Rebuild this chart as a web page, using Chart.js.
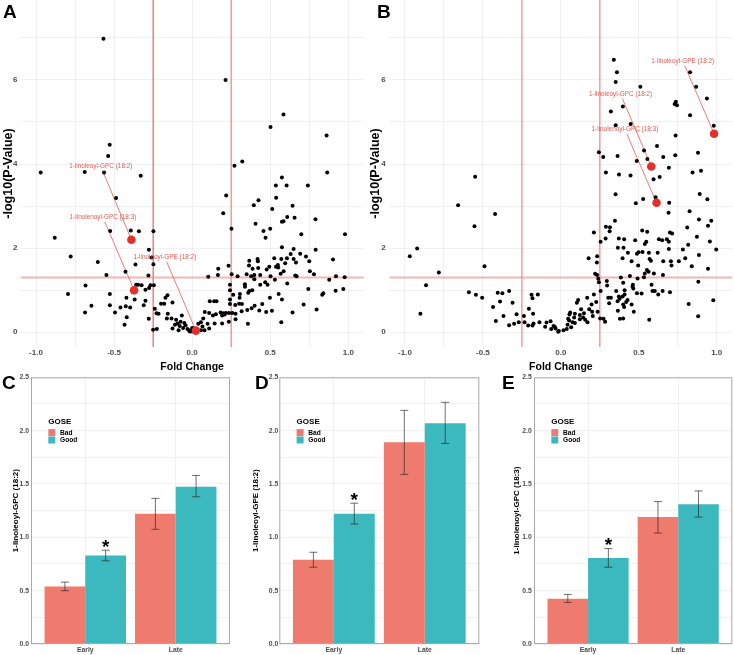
<!DOCTYPE html>
<html>
<head>
<meta charset="utf-8">
<script src="https://cdn.jsdelivr.net/npm/chart.js@4.4.0/dist/chart.umd.min.js"></script>
<style>
body { margin: 0; background: #fff; width: 734px; height: 655px; position: relative; overflow: hidden; }
canvas { position: absolute; }
.tag { position: absolute; font: bold 19px "Liberation Sans", Arial, sans-serif; color: #000; line-height: 1; }
</style>
</head>
<body>
<canvas id="volcA" style="left:0px;top:0px;width:365px;height:375px"></canvas>
<canvas id="volcB" style="left:365px;top:0px;width:369px;height:375px"></canvas>
<canvas id="barC" style="left:0px;top:370px;width:245px;height:285px"></canvas>
<canvas id="barD" style="left:245px;top:370px;width:245px;height:285px"></canvas>
<canvas id="barE" style="left:490px;top:370px;width:244px;height:285px"></canvas>
<div class="tag" style="left:3px;top:1.5px">A</div>
<div class="tag" style="left:377px;top:1.5px">B</div>
<div class="tag" style="left:2px;top:372.5px">C</div>
<div class="tag" style="left:255px;top:372.5px">D</div>
<div class="tag" style="left:502px;top:372.5px">E</div>
<script>
// ---- volcano data: [fold change, -log10 p] ----
const pointsA = [
  [-0.568,6.98],[0.214,6.00],[0.585,5.18],[0.502,4.88],[0.861,4.68],[-0.528,4.46],[-0.538,4.19],[-0.970,3.80],[-0.688,3.81],[-0.564,3.80],
  [-0.329,3.72],[0.865,3.80],[0.321,4.06],[0.271,3.96],[0.575,3.68],[0.536,3.49],[0.605,3.49],[0.741,3.49],[0.218,3.25],[-0.487,3.19],
  [0.425,3.14],[0.538,3.20],[0.395,3.02],[0.513,2.93],[0.643,3.01],[0.199,2.83],[0.609,2.74],[0.656,2.72],[0.575,2.63],[0.585,2.64],
  [0.790,2.69],[0.406,2.58],[0.252,2.46],[0.500,2.46],[0.457,2.41],[0.470,2.25],[0.699,2.33],[0.979,2.33],[-0.880,2.25],[-0.525,2.41],
  [-0.393,2.42],[-0.341,2.40],[-0.248,2.40],
  [-0.277,1.96],[-0.778,1.80],[-0.260,1.78],[-0.604,1.67],[-0.248,1.62],[-0.363,1.61],[-0.549,1.36],[-0.427,1.44],[-0.280,1.35],[-0.683,1.11],
  [-0.795,0.91],[-0.527,0.91],[-0.359,1.13],[-0.346,1.13],[-0.324,1.12],[-0.299,1.01],[-0.276,1.05],[-0.267,1.12],[-0.245,1.12],[-0.421,0.82],
  [-0.368,0.78],[-0.527,0.64],[-0.645,0.63],[-0.686,0.47],[-0.459,0.59],[-0.425,0.62],[-0.397,0.59],[-0.494,0.47],[-0.419,0.36],[-0.433,0.18],
  [-0.310,0.64],[-0.299,0.75],[-0.278,0.32],[-0.250,0.06],[-0.226,0.08],[-0.239,0.56],[-0.228,0.45],[-0.215,0.44],[-0.199,0.68],[-0.179,0.68],
  [-0.171,0.82],[-0.158,0.88],[-0.126,0.71],[-0.156,0.44],[-0.162,0.33],[-0.132,0.33],[-0.103,0.30],[-0.066,0.40],[-0.074,0.25],[-0.094,0.21],
  [-0.042,0.17],[-0.126,0.09],[-0.087,0.05],[-0.058,0.10],[-0.030,0.08],[-0.015,0.02],[-0.002,0.02],[-0.080,0.15],[-0.050,0.22],[-0.110,0.18],
  [-0.020,0.05],[0.000,0.10],
  [0.366,1.70],[0.419,1.74],[0.421,1.69],[0.526,1.76],[0.571,1.74],[0.607,1.76],[0.631,1.86],[0.650,1.74],[0.665,1.66],[0.692,1.87],
  [0.729,1.80],[0.750,1.69],[0.902,1.73],[0.575,2.02],[0.650,1.98],[0.791,1.96],[0.167,1.51],[0.165,1.36],[0.233,1.58],[0.364,1.59],
  [0.387,1.51],[0.423,1.53],[0.477,1.49],[0.494,1.56],[0.537,1.56],[0.549,1.60],[0.551,1.54],[0.596,1.64],[0.567,1.39],[0.586,1.45],
  [0.754,1.45],[0.780,1.38],[0.103,1.32],[0.253,1.38],[0.291,1.33],[0.349,1.38],[0.378,1.33],[0.398,1.36],[0.436,1.36],[0.502,1.33],
  [0.660,1.35],[0.669,1.33],[0.921,1.33],[0.977,1.31],[0.878,1.25],[0.242,1.13],[0.242,1.00],[0.263,0.89],[0.242,0.78],[0.242,0.67],
  [0.338,1.14],[0.338,1.08],[0.366,0.98],[0.385,1.00],[0.359,0.94],[0.306,0.91],[0.304,0.82],[0.398,1.26],[0.436,1.13],[0.468,1.19],
  [0.483,1.13],[0.530,1.25],[0.609,1.16],[0.744,1.03],[0.554,0.91],[0.498,0.82],[0.833,0.89],[0.840,0.93],[0.919,0.99],[0.968,1.03],
  [0.575,0.78],[0.301,0.68],[0.319,0.67],[0.276,0.65],[0.400,0.63],[0.449,0.67],[0.381,0.57],[0.353,0.53],[0.317,0.50],[0.430,0.52],
  [0.474,0.48],[0.511,0.51],[0.714,0.66],[0.643,0.47],[0.797,0.54],[0.357,0.20],[0.571,0.24],[0.278,0.31],[0.235,0.25],[0.278,0.44],
  [0.257,0.46],[0.236,0.46],[0.216,0.46],[0.199,0.45],[0.182,0.47],[0.192,0.40],[0.208,0.42],[0.152,0.43],[0.133,0.40],[0.109,0.46],
  [0.081,0.48],[0.113,0.74],[0.156,0.74],[0.141,0.74],[0.192,0.21],[0.144,0.21],[0.099,0.20],[0.071,0.33],[0.056,0.24],[0.039,0.20],
  [0.109,0.09],[0.079,0.05],[0.056,0.05],[0.003,0.05],[0.011,0.09],[0.066,0.14]
];
const hiA = [[-0.389,2.20],[-0.372,1.00],[0.024,0.04]];
const namesA = ['1-linoleoyl-GPC (18:2)', '1-linolenoyl-GPC (18:3)', '1-linoleoyl-GPE (18:2)'];
const labelAtA = [[-0.585,3.94],[-0.571,2.73],[-0.175,1.78]];

const pointsB = [
  [0.340,6.48],[0.360,6.18],[0.352,5.95],[0.829,6.18],[0.868,5.84],[0.510,5.84],[0.937,5.56],[0.730,5.43],[0.738,5.48],[0.745,5.40],
  [0.398,5.37],[0.321,5.25],[0.829,5.16],[0.352,4.92],[0.448,4.95],[0.981,4.91],[0.736,4.68],[0.617,4.43],[0.534,4.32],[0.244,4.28],
  [0.272,4.17],[0.364,4.19],[0.657,4.17],[0.734,4.21],[0.880,4.27],[0.487,4.07],[0.555,4.12],[0.693,3.91],[0.289,3.80],[0.373,3.75],
  [0.447,3.73],[0.634,3.69],[0.595,3.64],[0.845,3.80],[0.899,3.84],[0.351,3.28],[0.891,3.29],[0.528,3.17],[0.608,3.21],[0.481,3.07],
  [0.695,3.08],[0.940,3.16],[0.691,2.84],[0.826,2.88],
  [-0.550,3.70],[-0.659,3.02],[-0.422,2.81],[-0.554,2.52],[-0.922,1.99],[-0.969,1.81],[-0.490,1.57],[-0.783,1.42],[-0.865,1.12],[-0.901,0.44],
  [-0.590,0.95],[-0.545,0.89],[-0.505,0.82],[-0.405,0.94],[-0.375,0.93],[-0.332,0.98],[-0.390,0.73],[-0.310,0.70],[-0.435,0.60],[-0.368,0.39],
  [-0.417,0.27],[-0.284,0.43],[-0.332,0.17],[-0.300,0.20],[-0.270,0.24],[-0.237,0.39],[-0.233,0.24],[-0.210,0.16],[-0.205,0.56],[-0.188,0.89],
  [-0.182,0.81],[-0.148,0.90],[-0.178,0.44],[-0.175,0.21],[-0.182,0.16],[-0.137,0.24],[-0.101,0.13],[-0.092,0.23],[-0.066,0.26],[-0.062,0.08],
  [-0.047,0.15],[-0.034,0.09],[-0.017,0.01],
  [0.886,2.68],[0.965,2.65],[0.944,2.53],[0.347,2.65],[0.289,2.51],[0.315,2.50],[0.313,2.40],[0.212,2.37],[0.522,2.42],[0.554,2.39],
  [0.700,2.37],[0.811,2.49],[0.873,2.27],[0.956,2.16],[0.997,1.97],[0.287,2.23],[0.255,2.15],[0.372,2.23],[0.406,2.21],[0.477,2.19],
  [0.366,2.01],[0.402,2.01],[0.539,2.10],[0.548,2.15],[0.629,2.21],[0.650,2.19],[0.680,2.21],[0.693,2.15],[0.714,2.35],[0.693,1.98],
  [0.783,1.97],[0.817,2.08],[0.886,1.84],[0.430,1.89],[0.488,1.87],[0.499,1.90],[0.524,1.91],[0.565,1.89],[0.569,1.74],[0.578,1.70],
  [0.621,1.89],[0.178,1.76],[0.233,1.81],[0.231,1.66],[0.396,1.76],[0.454,1.69],[0.657,1.69],[0.706,1.69],[0.710,1.59],[0.757,1.69],
  [0.798,1.76],[0.840,1.57],[0.944,1.51],[0.496,1.59],[0.552,1.48],[0.563,1.44],[0.597,1.40],[0.539,1.40],[0.655,1.36],[0.220,1.39],
  [0.233,1.36],[0.385,1.30],[0.443,1.34],[0.492,1.28],[0.533,1.31],[0.240,1.27],[0.244,1.19],[0.295,1.22],[0.400,1.18],[0.297,1.11],
  [0.255,0.98],[0.355,0.98],[0.409,1.00],[0.462,1.13],[0.460,1.09],[0.465,1.04],[0.488,0.93],[0.518,0.92],[0.582,1.13],[0.588,0.98],
  [0.603,0.98],[0.625,0.90],[0.653,0.98],[0.700,0.95],[0.820,0.67],[0.978,0.76],[0.881,0.38],[0.567,0.30],[0.882,1.20],
  [0.212,0.90],[0.227,0.72],[0.197,0.66],[0.169,0.82],[0.111,0.77],[0.103,0.70],[0.130,0.55],[0.182,0.55],[0.201,0.49],[0.236,0.49],
  [0.252,0.33],[0.274,0.32],[0.284,0.25],[0.205,0.39],[0.304,0.82],[0.321,0.82],[0.310,0.69],[0.364,0.74],[0.372,0.85],[0.377,0.80],
  [0.396,0.85],[0.409,0.90],[0.400,0.66],[0.419,0.72],[0.428,0.77],[0.406,0.60],[0.454,0.66],[0.366,0.51],[0.379,0.32],[0.400,0.33],
  [0.468,0.49],[0.148,0.45],[0.143,0.35],[0.156,0.30],[0.171,0.24],[0.122,0.41],[0.122,0.31],[0.085,0.35],[0.090,0.44],[0.060,0.47],
  [0.055,0.42],[0.053,0.28],[0.075,0.24],[0.043,0.18],[0.047,0.32],[0.090,0.22],[0.066,0.12],[0.038,0.08],[0.017,0.05],[-0.013,0.03],
  [-0.039,0.13]
];
const hiB = [[0.580,3.94],[0.614,3.08],[0.983,4.72]];
const namesB = ['1-linoleoyl-GPC (18:2)', '1-linolenoyl-GPC (18:3)', '1-linoleoyl-GPE (18:2)'];
const labelAtB = [[0.383,5.66],[0.411,4.82],[0.782,6.45]];

const foldCuts = [-0.25, 0.25];
const pCut = 1.3;
const foldTicks = [-1, -0.75, -0.5, -0.25, 0, 0.25, 0.5, 0.75, 1];
const logpTicks = [0, 1, 2, 3, 4, 5, 6, 7];

// ---- bar data ----
const groups = ['Early', 'Late'];
const cBad = [0.54, 1.22];
const cGood = [0.83, 1.475];
const cBadErr = [[0.50, 0.58], [1.075, 1.365]];
const cGoodErr = [[0.78, 0.88], [1.38, 1.58]];
const dBad = [0.79, 1.89];
const dGood = [1.22, 2.07];
const dBadErr = [[0.72, 0.86], [1.59, 2.19]];
const dGoodErr = [[1.125, 1.32], [1.88, 2.265]];
const eBad = [0.425, 1.19];
const eGood = [0.805, 1.31];
const eBadErr = [[0.39, 0.465], [1.04, 1.335]];
const eGoodErr = [[0.72, 0.895], [1.19, 1.435]];
const starAt = [0.96, 1.40, 0.975];
const barTicks = [0, 0.25, 0.5, 0.75, 1, 1.25, 1.5, 1.75, 2, 2.25, 2.5];

const FONT = '"Liberation Sans", Arial, sans-serif';
Chart.defaults.font.family = FONT;
const gridCol = 'rgba(0,0,0,0.07)';
const badCol = '#EF7B6E';
const goodCol = '#3CB8BF';
const labelRed = 'rgba(232,72,62,0.9)';

function sizeCanvas(id) {
  const c = document.getElementById(id);
  c.width = parseFloat(c.style.width);
  c.height = parseFloat(c.style.height);
  return c;
}

// no extra padding from edge tick labels
function noEdgePad(s) {
  s.paddingLeft = 0; s.paddingRight = 0; s.paddingTop = 0; s.paddingBottom = 0;
}

function volcanoDecor(hi, names, labelAt, vStyles, hStyle) {
  return {
    id: 'volcanoDecor',
    beforeDatasetsDraw(chart) {
      const { ctx, chartArea: a, scales: { x, y } } = chart;
      ctx.save();
      ctx.beginPath();
      ctx.rect(a.left, a.top, a.right - a.left, a.bottom - a.top);
      ctx.clip();
      foldCuts.forEach((v, i) => {
        const px = x.getPixelForValue(v);
        ctx.strokeStyle = vStyles[i].color;
        ctx.lineWidth = vStyles[i].width;
        ctx.beginPath(); ctx.moveTo(px, a.top); ctx.lineTo(px, a.bottom); ctx.stroke();
      });
      const py = y.getPixelForValue(pCut);
      ctx.strokeStyle = hStyle.color;
      ctx.lineWidth = hStyle.width;
      ctx.beginPath(); ctx.moveTo(a.left, py); ctx.lineTo(a.right, py); ctx.stroke();

      // segments from labels to points
      ctx.font = '6.4px ' + FONT;
      ctx.strokeStyle = labelRed;
      ctx.lineWidth = 0.8;
      names.forEach((name, i) => {
        const lx = x.getPixelForValue(labelAt[i][0]), ly = y.getPixelForValue(labelAt[i][1]);
        const px = x.getPixelForValue(hi[i][0]), ppy = y.getPixelForValue(hi[i][1]);
        const hw = ctx.measureText(name).width / 2 + 1, hh = 4.5;
        const dx = px - lx, dy = ppy - ly;
        const t = Math.min(hw / Math.max(Math.abs(dx), 1e-6), hh / Math.max(Math.abs(dy), 1e-6));
        ctx.beginPath(); ctx.moveTo(lx + dx * t, ly + dy * t); ctx.lineTo(px, ppy); ctx.stroke();
      });
      ctx.restore();
    },
    afterDatasetsDraw(chart) {
      const { ctx, scales: { x, y } } = chart;
      ctx.save();
      ctx.font = '6.4px ' + FONT;
      ctx.fillStyle = labelRed;
      ctx.textAlign = 'center';
      ctx.textBaseline = 'middle';
      names.forEach((name, i) => {
        ctx.fillText(name, x.getPixelForValue(labelAt[i][0]), y.getPixelForValue(labelAt[i][1]));
      });
      ctx.restore();
    }
  };
}

function volcano(id, pts, hi, names, labelAt, vStyles, hStyle, L) {
  const canvas = sizeCanvas(id);
  return new Chart(canvas, {
    type: 'scatter',
    data: {
      datasets: [
        { data: hi.map(p => ({ x: p[0], y: p[1] })), pointRadius: 4.3, backgroundColor: '#E5302A', borderWidth: 0 },
        { data: pts.map(p => ({ x: p[0], y: p[1] })), pointRadius: 2, backgroundColor: '#000', borderWidth: 0 }
      ]
    },
    options: {
      responsive: false,
      animation: false,
      devicePixelRatio: 1,
      layout: { autoPadding: false, padding: { left: 0, right: L.padRight, top: 0, bottom: 0 } },
      plugins: { legend: { display: false }, tooltip: { enabled: false } },
      scales: {
        x: {
          type: 'linear', min: -1.1, max: 1.1,
          afterBuildTicks: s => { s.ticks = foldTicks.map(v => ({ value: v })); },
          afterFit: s => { s.height = 28; noEdgePad(s); },
          grid: { color: gridCol, lineWidth: 0.8, drawTicks: false },
          border: { display: false },
          ticks: {
            padding: 1, autoSkip: false, maxRotation: 0, color: '#4D4D4D',
            font: { size: 8, weight: 'bold' },
            callback: v => (Math.abs(v * 2 - Math.round(v * 2)) < 1e-6 ? v.toFixed(1) : '')
          },
          title: { display: true, text: 'Fold Change', color: '#000', font: { size: 10.5, weight: 'bold' }, padding: { top: 0, bottom: 1.7 } }
        },
        y: {
          type: 'linear', min: -0.35, max: 7.9,
          afterBuildTicks: s => { s.ticks = logpTicks.map(v => ({ value: v })); },
          afterFit: s => { s.width = L.yW; noEdgePad(s); },
          grid: { color: gridCol, lineWidth: 0.8, drawTicks: false },
          border: { display: false },
          ticks: {
            padding: L.tickPad, autoSkip: false, color: '#4D4D4D',
            font: { size: 8, weight: 'bold' },
            callback: v => (v % 2 === 0 ? String(v) : '')
          },
          title: { display: true, text: '-log10(P-Value)', color: '#000', font: { size: 12.5, weight: 'bold' }, padding: { top: L.titlePad, bottom: 0 } }
        }
      }
    },
    plugins: [volcanoDecor(hi, names, labelAt, vStyles, hStyle)]
  });
}

const barDecor = {
  id: 'barDecor',
  afterDatasetsDraw(chart) {
    const { ctx, scales: { y } } = chart;
    ctx.save();
    ctx.strokeStyle = 'rgba(40,40,40,0.75)';
    ctx.lineWidth = 0.9;
    chart.data.datasets.forEach((ds, i) => {
      chart.getDatasetMeta(i).data.forEach((bar, j) => {
        const lo = y.getPixelForValue(ds.errs[j][0]);
        const hiP = y.getPixelForValue(ds.errs[j][1]);
        ctx.beginPath();
        ctx.moveTo(bar.x, lo); ctx.lineTo(bar.x, hiP);
        ctx.moveTo(bar.x - 4, lo); ctx.lineTo(bar.x + 4, lo);
        ctx.moveTo(bar.x - 4, hiP); ctx.lineTo(bar.x + 4, hiP);
        ctx.stroke();
      });
    });
    // significance star over Early / Good
    const early = chart.getDatasetMeta(1).data[0];
    const fs = 19;
    ctx.font = 'bold ' + fs + 'px ' + FONT;
    ctx.fillStyle = '#000';
    ctx.textAlign = 'center';
    ctx.textBaseline = 'alphabetic';
    ctx.fillText('*', early.x, y.getPixelForValue(chart.options.plugins.barDecor.star) + 0.58 * fs);
    ctx.restore();
  },
  afterDraw(chart) {
    const { ctx, chartArea: a } = chart;
    ctx.save();
    ctx.strokeStyle = '#A9A9A9';
    ctx.lineWidth = 1;
    ctx.strokeRect(a.left + 0.5, a.top + 0.5, a.right - a.left - 1, a.bottom - a.top - 1);
    // legend
    const lx = a.left + 17.3, ty = a.top + 44.4;
    ctx.fillStyle = '#000';
    ctx.textBaseline = 'middle';
    ctx.textAlign = 'left';
    ctx.font = 'bold 8px ' + FONT;
    ctx.fillText('GOSE', lx, ty);
    ctx.fillStyle = badCol;
    ctx.fillRect(lx, ty + 7.4, 7, 7);
    ctx.fillStyle = goodCol;
    ctx.fillRect(lx, ty + 14.8, 7, 7);
    ctx.fillStyle = '#000';
    ctx.font = 'bold 6.6px ' + FONT;
    ctx.fillText('Bad', lx + 11.7, ty + 11);
    ctx.fillText('Good', lx + 11.7, ty + 18.6);
    ctx.restore();
  }
};

function bars(id, bad, good, badErr, goodErr, star, yTitle, L) {
  const canvas = sizeCanvas(id);
  return new Chart(canvas, {
    type: 'bar',
    data: {
      datasets: [
        { label: 'Bad', data: bad.map((v, i) => ({ x: i + 1, y: v })), backgroundColor: badCol, errs: badErr,
          categoryPercentage: 0.9, barPercentage: 1.0, borderWidth: 0 },
        { label: 'Good', data: good.map((v, i) => ({ x: i + 1, y: v })), backgroundColor: goodCol, errs: goodErr,
          categoryPercentage: 0.9, barPercentage: 1.0, borderWidth: 0 }
      ]
    },
    options: {
      responsive: false,
      animation: false,
      devicePixelRatio: 1,
      layout: { autoPadding: false, padding: { left: 0, right: L.padRight, top: 7.3, bottom: 0 } },
      plugins: { legend: { display: false }, tooltip: { enabled: false }, barDecor: { star: star } },
      scales: {
        x: {
          type: 'linear', min: 0.4, max: 2.6, offset: false,
          afterBuildTicks: s => { s.ticks = [{ value: 1 }, { value: 2 }]; },
          afterFit: s => { s.height = 11; noEdgePad(s); },
          grid: { color: gridCol, lineWidth: 0.8, drawTicks: false, offset: false },
          border: { display: false },
          ticks: { padding: 2, autoSkip: false, maxRotation: 0, color: '#4D4D4D', font: { size: 6.8, weight: 'bold' },
                   callback: v => groups[v - 1] },
        },
        y: {
          type: 'linear', min: 0, max: 2.5,
          afterBuildTicks: s => { s.ticks = barTicks.map(v => ({ value: v })); },
          afterFit: s => { s.width = L.yW; noEdgePad(s); },
          grid: { color: gridCol, lineWidth: 0.8, drawTicks: false },
          border: { display: false },
          ticks: { padding: L.tickPad, autoSkip: false, color: '#4D4D4D', font: { size: 6.8, weight: 'bold' },
                   callback: v => (Math.abs(v * 2 - Math.round(v * 2)) < 1e-6 ? v.toFixed(1) : '') },
          title: { display: true, text: yTitle, color: '#000', font: { size: 8, weight: 'bold' }, padding: { top: L.titlePad, bottom: 0 } }
        }
      }
    },
    plugins: [barDecor]
  });
}

volcano('volcA', pointsA, hiA, namesA, labelAtA,
  [{ color: 'rgba(215,60,60,0.9)', width: 1 }, { color: 'rgba(235,95,95,0.75)', width: 1.2 }],
  { color: 'rgba(240,130,130,0.6)', width: 2 },
  { yW: 20.4, padRight: 1.1, tickPad: 3, titlePad: 1.2 });

volcano('volcB', pointsB, hiB, namesB, labelAtB,
  [{ color: 'rgba(240,120,120,0.65)', width: 1.6 }, { color: 'rgba(240,120,120,0.65)', width: 1.6 }],
  { color: 'rgba(240,130,130,0.6)', width: 2 },
  { yW: 24.4, padRight: 1.7, tickPad: 3.7, titlePad: 3.0 });

bars('barC', cBad, cGood, cBadErr, cGoodErr, starAt[0], '1-linoleoyl-GPC (18:2)',
  { yW: 31, padRight: 15, tickPad: 2, titlePad: 10.9 });
bars('barD', dBad, dGood, dBadErr, dGoodErr, starAt[1], '1-linoleoyl-GPE (18:2)',
  { yW: 34.3, padRight: 10.7, tickPad: 1, titlePad: 5.9 });
bars('barE', eBad, eGood, eBadErr, eGoodErr, starAt[2], '1-linolenoyl-GPC (18:3)',
  { yW: 44, padRight: 1.7, tickPad: 2.3, titlePad: 21.9 });
</script>
</body>
</html>
